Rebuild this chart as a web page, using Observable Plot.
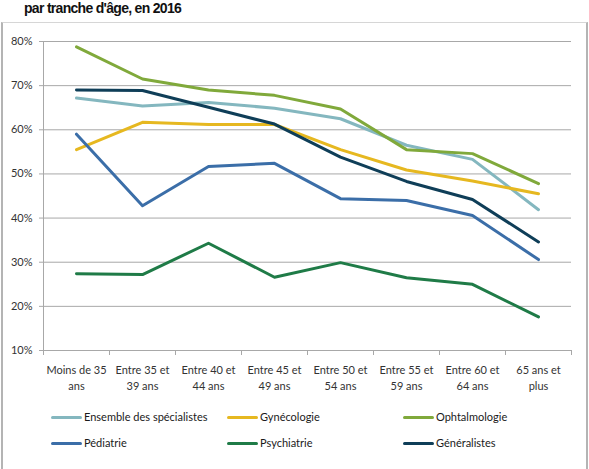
<!DOCTYPE html>
<html><head><meta charset="utf-8">
<script src="https://cdn.jsdelivr.net/npm/d3@7"></script>
<script src="https://cdn.jsdelivr.net/npm/@observablehq/plot@0.6"></script>
<style>
body{margin:0;background:#fff;font-family:Lato,"Open Sans",sans-serif;}
#wrap{position:relative;width:589px;height:469px;overflow:hidden;background:#fff;}
#title{position:absolute;left:24px;top:1px;font:bold 14px "Liberation Sans",Arial,sans-serif;letter-spacing:-0.7px;color:#111;white-space:nowrap;line-height:15px;}
#frame{position:absolute;left:1px;top:22px;width:583px;height:460px;border:1px solid #d6d6d6;border-left:2px solid #b4b4b4;border-right:2px solid #b4b4b4;}
#chart{position:absolute;left:0;top:0;}
.leg{position:absolute;font-size:11px;color:#1a1a1a;display:flex;align-items:center;height:16px;line-height:16px;white-space:nowrap;}
.leg .sw{display:inline-block;width:31px;height:3px;margin-right:2px;border-radius:1.5px;}
</style></head>
<body>
<div id="wrap">
  <div id="frame"></div>
  <div id="title">par tranche d'âge, en 2016</div>
  <div id="chart"></div>
  <div id="legend"></div>
</div>
<script>
const categories = ["Moins de 35\nans","Entre 35 et\n39 ans","Entre 40 et\n44 ans","Entre 45 et\n49 ans","Entre 50 et\n54 ans","Entre 55 et\n59 ans","Entre 60 et\n64 ans","65 ans et\nplus"];
const series = ["Ensemble des spécialistes","Gynécologie","Ophtalmologie","Pédiatrie","Psychiatrie","Généralistes"];
const colors = ["#84b7bf","#e6b820","#80a93b","#3b6ea8","#1f7b47","#0f3e58"];
const ensemble     = [67.2, 65.4, 66.2, 64.9, 62.5, 56.5, 53.3, 41.9];
const gynecologie  = [55.5, 61.7, 61.2, 61.2, 55.5, 50.9, 48.4, 45.5];
const ophtalmologie= [78.8, 71.5, 69.0, 67.8, 64.7, 55.5, 54.6, 47.8];
const pediatrie    = [59.0, 42.8, 51.7, 52.4, 44.4, 44.0, 40.6, 30.6];
const psychiatrie  = [27.4, 27.2, 34.3, 26.6, 29.9, 26.5, 25.0, 17.6];
const generalistes = [69.0, 68.9, 65.1, 61.3, 53.8, 48.3, 44.2, 34.6];
const yTicks = [10, 20, 30, 40, 50, 60, 70, 80];

const values = [ensemble, gynecologie, ophtalmologie, pediatrie, psychiatrie, generalistes];
const rows = [];
series.forEach((s, k) => values[k].forEach((v, i) => rows.push({serie: s, i, v})));
const labels = categories.map((c, i) => ({c, i}));

const chart = Plot.plot({
  width: 589, height: 392,
  marginTop: 41, marginLeft: 43, marginRight: 18, marginBottom: 42,
  style: {fontFamily: "Lato, 'Open Sans', sans-serif", fontSize: "11px", color: "#333", background: "transparent"},
  x: {type: "linear", domain: [0, categories.length], axis: null},
  y: {domain: [10, 80], axis: null},
  color: {domain: series, range: colors},
  marks: [
    Plot.ruleY(yTicks, {stroke: "#a8a8a8", strokeWidth: 1}),
    Plot.ruleX([0], {stroke: "#a8a8a8", strokeWidth: 1}),
    Plot.axisY({ticks: yTicks, tickFormat: d => d + "%", tickSize: 4, tickPadding: 7, stroke: "#a8a8a8", label: null, fill: "#333"}),
    Plot.axisX({ticks: d3.range(categories.length + 1), tickSize: 5, tickFormat: () => "", stroke: "#a8a8a8", label: null}),
    Plot.text(labels, {x: d => d.i + 0.5, text: "c", frameAnchor: "bottom", dy: 12, lineAnchor: "top", lineHeight: 1.45, fill: "#333"}),
    Plot.line(rows, {x: d => d.i + 0.5, y: "v", z: "serie", stroke: "serie", strokeWidth: 3, curve: "linear"})
  ]
});
document.getElementById("chart").appendChild(chart);

const legendPos = [[51, 417], [227, 417], [403, 417], [51, 443], [227, 443], [403, 443]];
const leg = document.getElementById("legend");
series.forEach((s, k) => {
  const d = document.createElement("div");
  d.className = "leg";
  d.style.left = legendPos[k][0] + "px";
  d.style.top = (legendPos[k][1] - 8) + "px";
  d.innerHTML = `<span class="sw" style="background:${colors[k]}"></span>${s}`;
  leg.appendChild(d);
});
</script>
</body></html>
